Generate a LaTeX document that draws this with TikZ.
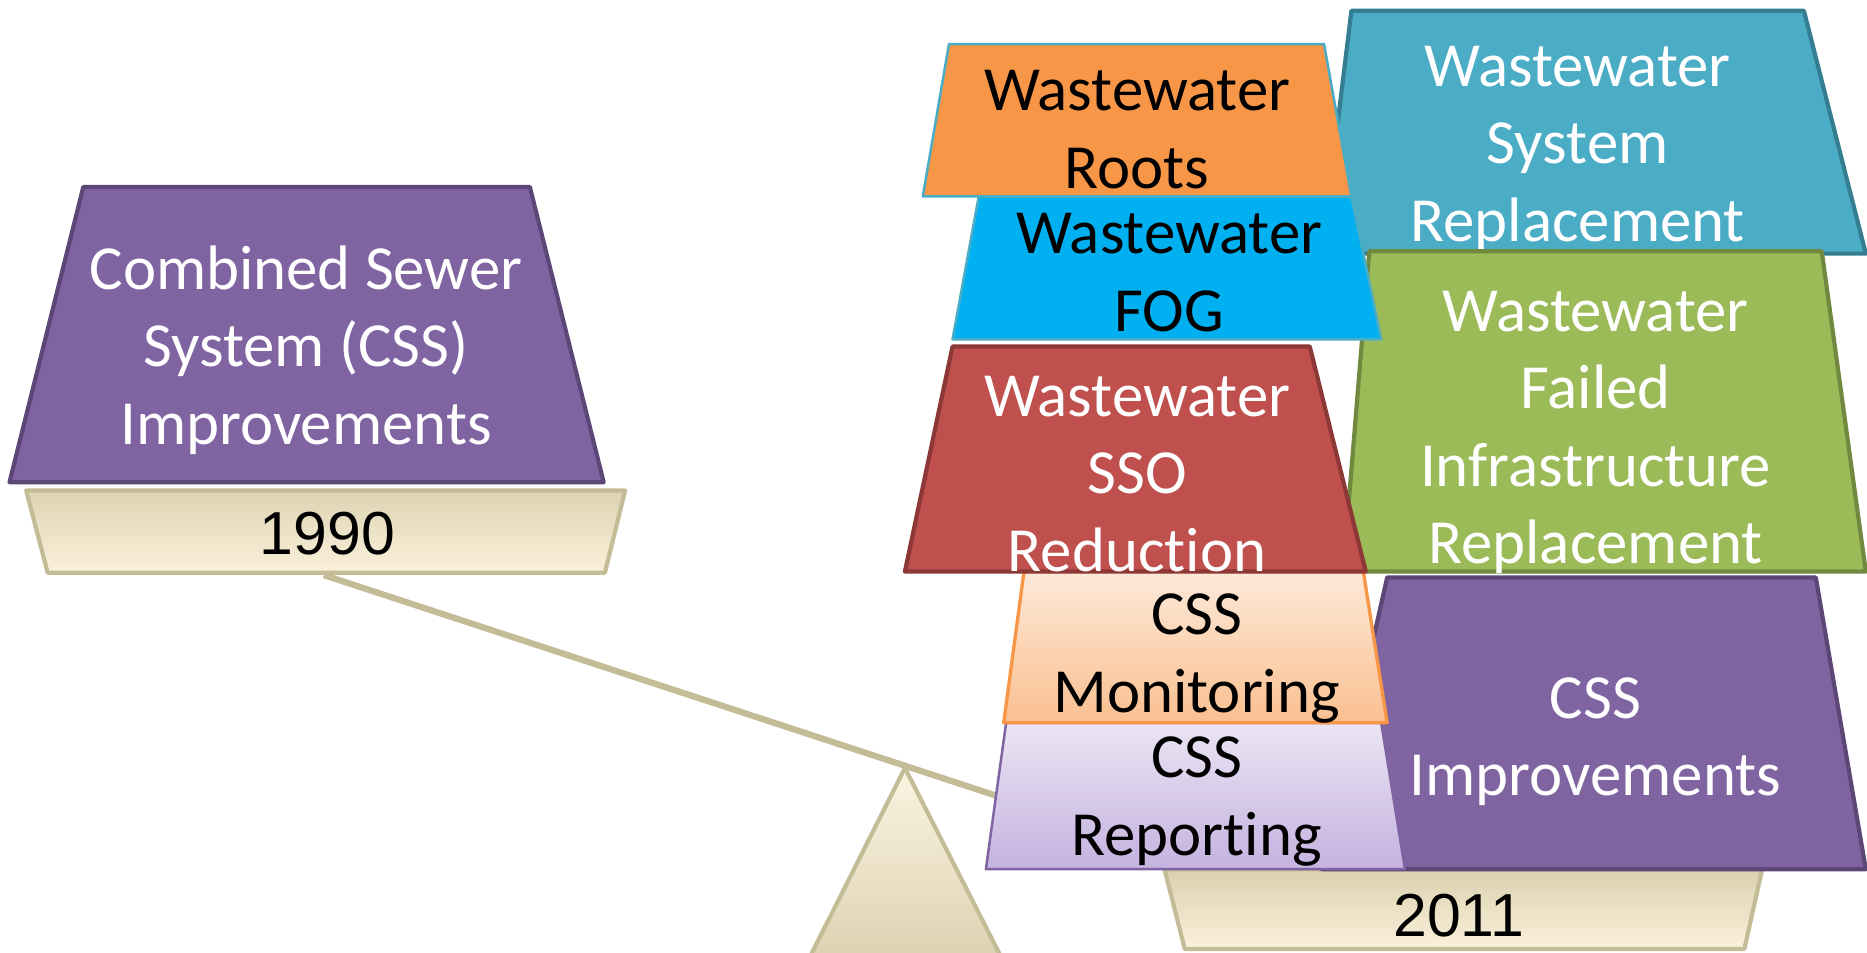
\documentclass[tikz,border=0pt]{standalone}
\usepackage{fontspec}
\setmainfont[Ligatures=NoCommon]{Carlito}
\newfontfamily\arialfont{Liberation Sans}
\usepackage{tikz}
\usetikzlibrary{calc}
\definecolor{cssPurple}{HTML}{8064A2}
\definecolor{cssPurpleD}{HTML}{5C4776}
\definecolor{tanLine}{HTML}{C4BC96}
\definecolor{tanDark}{HTML}{DDD4B3}
\definecolor{cream}{HTML}{FBF0DA}
\definecolor{wwTeal}{HTML}{4BACC6}
\definecolor{wwTealD}{HTML}{357D91}
\definecolor{wwOrange}{HTML}{F79646}
\definecolor{wwCyan}{HTML}{00B0F0}
\definecolor{wwGreen}{HTML}{9BBB59}
\definecolor{wwGreenD}{HTML}{71893F}
\definecolor{wwRed}{HTML}{C0504D}
\definecolor{wwRedD}{HTML}{8C3836}
\definecolor{peachTop}{HTML}{FDE9D9}
\definecolor{peachBot}{HTML}{FAC090}
\definecolor{lavTop}{HTML}{EAE4F3}
\definecolor{lavBot}{HTML}{C5B3E0}
\tikzset{
  label/.style={font=\fontsize{15}{18.5}\selectfont, align=center, inner sep=0pt},
  year/.style={font=\arialfont\fontsize{14.5}{17}\selectfont, inner sep=0pt},
  base/.style={draw=tanLine, line width=1pt, top color=tanDark, bottom color=cream},
}

\begin{document}
\begin{tikzpicture}[x=0.01cm, y=-0.01cm, line join=round]
			%%%%% FRAME %%%%%
			\clip (0, 0) rectangle (1568, 800);
			\fill[white] (0, 0) rectangle (1568, 800);
			
			%%%%% LEFT SIDE, 1990 %%%%%
			\draw[fill=cssPurple, draw=cssPurpleD, line width=1pt] (70, 157) -- (445, 157) -- (507, 405) -- (8, 405) -- cycle;
			\node[label, white] (combined) at (257, 294) {Combined Sewer\\System (CSS)\\Improvements};
			
			\draw[base] (22, 412) -- (525, 412) -- (508, 481) -- (40, 481) -- cycle;
			\node[year] (yr1990) at (275, 448) {1990};
			
			%%%%% BEAM AND FULCRUM %%%%%
			\coordinate (beamL) at (272, 483);
			\coordinate (beamR) at (845, 671);
			\draw[tanLine, line width=1.5pt] (beamL) -- (beamR);
			
			\coordinate (apex) at (760, 645);
			\draw[draw=tanLine, line width=1pt, top color=cream!80!white, bottom color=tanDark!90!tanLine] (apex) -- (845, 812) -- (676, 812) -- cycle;
			
			%%%%% RIGHT SIDE, 2011 %%%%%
			\draw[base, top color=tanDark!90!tanLine] (978, 730) -- (1480, 730) -- (1465, 797) -- (995, 797) -- cycle;
			\node[year] (yr2011) at (1225, 769) {2011};
			
			\draw[fill=wwTeal, draw=wwTealD, line width=1pt] (1135, 9) -- (1515, 9) -- (1567, 213) -- (1110, 213) -- cycle;
			\node[label, white] (sysrepl) at (1325, 125) {Wastewater\\System\\Replacement};
			
			\draw[fill=wwGreen, draw=wwGreenD, line width=1pt] (1150, 211) -- (1530, 211) -- (1567, 480) -- (1128, 480) -- cycle;
			\node[label, white] (failed) at (1340, 363) {Wastewater\\Failed\\Infrastructure\\Replacement};
			
			\draw[fill=cssPurple, draw=cssPurpleD, line width=1pt] (1165, 485) -- (1525, 485) -- (1567, 730) -- (1110, 730) -- cycle;
			\node[label, white] (cssimpr) at (1340, 623) {CSS\\Improvements};
			
			\draw[draw=cssPurple, line width=0.6pt, top color=lavTop, bottom color=lavBot] (845, 607) -- (1160, 607) -- (1180, 730) -- (828, 730) -- cycle;
			\node[label] (reporting) at (1005, 673) {CSS\\Reporting};
			
			\draw[draw=wwOrange, line width=0.8pt, top color=peachTop, bottom color=peachBot] (860, 480) -- (1145, 480) -- (1165, 607) -- (843, 607) -- cycle;
			\node[label] (monitoring) at (1005, 553) {CSS\\Monitoring};
			
			\draw[fill=wwRed, draw=wwRedD, line width=1pt] (800, 291) -- (1100, 291) -- (1147, 480) -- (760, 480) -- cycle;
			\node[label, white] (sso) at (955, 398) {Wastewater\\SSO\\Reduction};
			
			\draw[fill=wwCyan, draw=wwTeal, line width=0.6pt] (822, 165) -- (1135, 165) -- (1160, 285) -- (800, 285) -- cycle;
			\node[label] (fog) at (982, 229) {Wastewater\\FOG};
			
			\draw[fill=wwOrange, draw=wwTeal, line width=0.6pt] (797, 37) -- (1112, 37) -- (1135, 165) -- (775, 165) -- cycle;
			\node[label] (roots) at (955, 109) {Wastewater\\Roots};
			
		\end{tikzpicture}
\end{document}
